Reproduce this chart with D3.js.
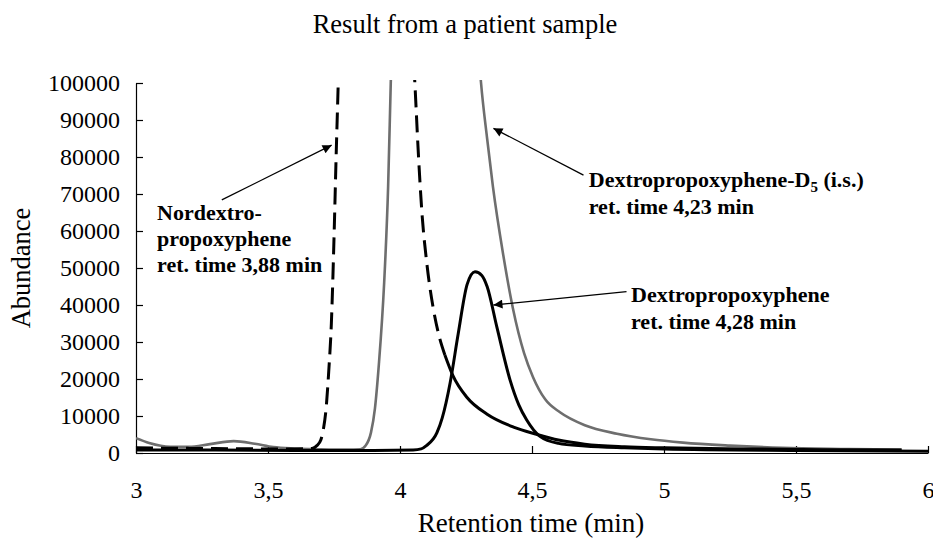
<!DOCTYPE html>
<html><head><meta charset="utf-8">
<script src="https://cdn.jsdelivr.net/npm/d3@7/dist/d3.min.js"></script>
<style>
body{margin:0;background:#fff}
svg{display:block}
text{font-family:"Liberation Serif","Times New Roman",serif;fill:#000}
</style>
</head><body>
<svg id="chart" width="933" height="545"></svg>
<script>
// ---------- DATA ----------
const chartTitle = "Result from a patient sample";
const xTitle = "Retention time (min)";
const yTitle = "Abundance";
const xTicks = [3, 3.5, 4, 4.5, 5, 5.5, 6];
const xTickLabels = ["3", "3,5", "4", "4,5", "5", "5,5", "6"];
const yTicks = [0, 10000, 20000, 30000, 40000, 50000, 60000, 70000, 80000, 90000, 100000];
const yTickLabels = ["0", "10000", "20000", "30000", "40000", "50000", "60000", "70000", "80000", "90000", "100000"];

// Nordextropropoxyphene (dashed black)
const nordTime  = [3.0, 3.1, 3.2, 3.3, 3.4, 3.5, 3.6, 3.65, 3.67, 3.685, 3.70, 3.71, 3.72, 3.73, 3.74, 3.75, 3.758, 3.766, 3.78, 3.85, 3.95, 4.02, 4.04, 4.057, 4.068, 4.083, 4.102, 4.125, 4.145, 4.17, 4.20, 4.254, 4.33, 4.43, 4.52, 4.6, 4.7, 4.85, 5.0, 5.3, 5.6, 5.9];
const nordAbund = [1400, 1300, 1250, 1200, 1150, 1100, 1100, 1150, 1300, 2000, 3500, 6500, 12000, 22000, 35000, 58000, 80000, 100000, 140000, 260000, 250000, 150000, 120000, 99000, 83000, 65000, 51000, 39500, 32500, 26500, 21000, 15000, 10500, 7000, 5000, 3500, 2400, 1700, 1400, 1100, 900, 800];
const nordDashedUntil = 4.17;

// Dextropropoxyphene-D5 (i.s.) (grey)
const d5Time  = [3.0, 3.05, 3.13, 3.2, 3.28, 3.37, 3.45, 3.52, 3.6, 3.7, 3.8, 3.85, 3.87, 3.89, 3.905, 3.92, 3.94, 3.955, 3.965, 3.99, 4.1, 4.2, 4.26, 4.285, 4.307, 4.33, 4.352, 4.39, 4.428, 4.47, 4.504, 4.55, 4.606, 4.7, 4.822, 4.95, 5.072, 5.25, 5.45, 5.7, 5.9];
const d5Abund = [4000, 2700, 1700, 1700, 2400, 3200, 2500, 1600, 1200, 1000, 900, 1000, 2000, 5500, 12000, 24000, 46000, 72000, 100000, 160000, 300000, 260000, 160000, 122000, 100000, 85000, 72000, 54000, 39000, 27000, 20500, 14500, 11000, 7500, 5200, 3700, 2800, 2000, 1400, 1100, 900];

// Dextropropoxyphene (solid black)
const dextTime  = [3.0, 3.3, 3.6, 3.9, 4.05, 4.08, 4.10, 4.14, 4.16, 4.19, 4.22, 4.254, 4.284, 4.31, 4.33, 4.367, 4.417, 4.45, 4.48, 4.53, 4.6, 4.7, 4.85, 5.0, 5.5, 6.0];
const dextAbund = [800, 800, 700, 700, 800, 1100, 2000, 5500, 9500, 19000, 32000, 45500, 49000, 48000, 45000, 34000, 19700, 13000, 8900, 4500, 2600, 1900, 1400, 1100, 700, 500];

// Annotations: label lines, label anchor (time, abundance), arrow start and tip (time, abundance)
const annNordLines = ["Nordextro-", "propoxyphene", "ret. time 3,88 min"];
const annNordAt = [3.08, 63000];
const annNordArrow = [[3.325, 68400], [3.741, 83200]];
const annD5Lines = ["Dextropropoxyphene-D", "ret. time 4,23 min"];
const annD5Sub = "5";
const annD5Tail = " (i.s.)";
const annD5At = [4.715, 72000];
const annD5Arrow = [[4.695, 75100], [4.354, 87750]];
const annDextLines = ["Dextropropoxyphene", "ret. time 4,28 min"];
const annDextAt = [4.875, 40800];
const annDextArrow = [[4.858, 43600], [4.354, 40000]];

// ---------- CHART ----------
const FONT = '"Liberation Serif","Times New Roman",serif';
const svg = d3.select("#chart");
const L = 136, R = 928, T = 83, B = 453;
const x = d3.scaleLinear().domain([3, 6]).range([L, R]);
const y = d3.scaleLinear().domain([0, 100000]).range([B, T]);

svg.append("text").attr("x", 465).attr("y", 33).attr("text-anchor", "middle")
  .style("font-size", "26.5px").text(chartTitle);

const defs = svg.append("defs");
defs.append("clipPath").attr("id", "plotclip").append("rect")
  .attr("x", L).attr("y", T - 3).attr("width", R - L + 4).attr("height", B - T + 6);
defs.append("marker").attr("id", "ah").attr("viewBox", "0 0 10 10")
  .attr("refX", 10).attr("refY", 5).attr("markerWidth", 12).attr("markerHeight", 9)
  .attr("markerUnits", "userSpaceOnUse").attr("orient", "auto")
  .append("path").attr("d", "M0,0L10,5L0,10Z").attr("fill", "#000");

// axes
const yAxis = d3.axisLeft(y).tickValues(yTicks).tickFormat((d, i) => yTickLabels[i])
  .tickSizeInner(-7).tickSizeOuter(0).tickPadding(16);
const gy = svg.append("g").attr("transform", `translate(${L},0)`).call(yAxis);
const xAxis = d3.axisBottom(x).tickValues(xTicks).tickFormat((d, i) => xTickLabels[i])
  .tickSizeInner(-7).tickSizeOuter(0).tickPadding(28);
const gx = svg.append("g").attr("transform", `translate(0,${B})`).call(xAxis);
[gx, gy].forEach(g => {
  g.attr("font-family", FONT).attr("font-size", 24);
  g.select(".domain").attr("stroke", "#000").attr("stroke-width", 1.2);
  g.selectAll(".tick line").attr("stroke", "#000").attr("stroke-width", 1.2);
  g.selectAll(".tick text").style("font-family", FONT).style("font-size", "24px").attr("fill", "#000");
});

svg.append("text").attr("transform", "translate(30,268) rotate(-90)")
  .attr("text-anchor", "middle").style("font-size", "26.5px").text(yTitle);
svg.append("text").attr("x", 531).attr("y", 532).attr("text-anchor", "middle")
  .style("font-size", "27px").text(xTitle);

// series
const zip = (ts, vs) => ts.map((t, i) => ({t, v: vs[i]}));
const line = d3.line().x(d => x(d.t)).y(d => y(d.v)).curve(d3.curveMonotoneX);
const plot = svg.append("g").attr("clip-path", "url(#plotclip)");

plot.append("path").datum(zip(d5Time, d5Abund)).attr("d", line)
  .attr("fill", "none").attr("stroke", "#6e6e6e").attr("stroke-width", 2.6);

plot.append("path").datum(zip(dextTime, dextAbund)).attr("d", line)
  .attr("fill", "none").attr("stroke", "#000").attr("stroke-width", 3);

const nord = zip(nordTime, nordAbund);
plot.append("path").datum(nord.filter(d => d.t <= nordDashedUntil)).attr("d", line)
  .attr("fill", "none").attr("stroke", "#000").attr("stroke-width", 3)
  .attr("stroke-dasharray", "17,8");
plot.append("path").datum(nord.filter(d => d.t >= nordDashedUntil)).attr("d", line)
  .attr("fill", "none").attr("stroke", "#000").attr("stroke-width", 3);

// annotations
function arrow(a) {
  svg.append("line").attr("x1", x(a[0][0])).attr("y1", y(a[0][1]))
    .attr("x2", x(a[1][0])).attr("y2", y(a[1][1]))
    .attr("stroke", "#000").attr("stroke-width", 1.3).attr("marker-end", "url(#ah)");
}
function label(lines, at, lh) {
  const t = svg.append("text").attr("x", x(at[0])).attr("y", y(at[1]))
    .style("font-size", "22px").style("font-weight", "bold");
  lines.forEach((s, i) => t.append("tspan").attr("x", x(at[0])).attr("dy", i ? lh : 0).text(s));
  return t;
}
arrow(annNordArrow);
arrow(annD5Arrow);
arrow(annDextArrow);
label(annNordLines, annNordAt, 26);
const tD5 = label(annD5Lines, annD5At, 27);
const first = tD5.select("tspan");
first.append("tspan").attr("dy", 5).style("font-size", "15px").text(annD5Sub);
first.append("tspan").attr("dy", -5).text(annD5Tail);
label(annDextLines, annDextAt, 27);
</script>
</body></html>
